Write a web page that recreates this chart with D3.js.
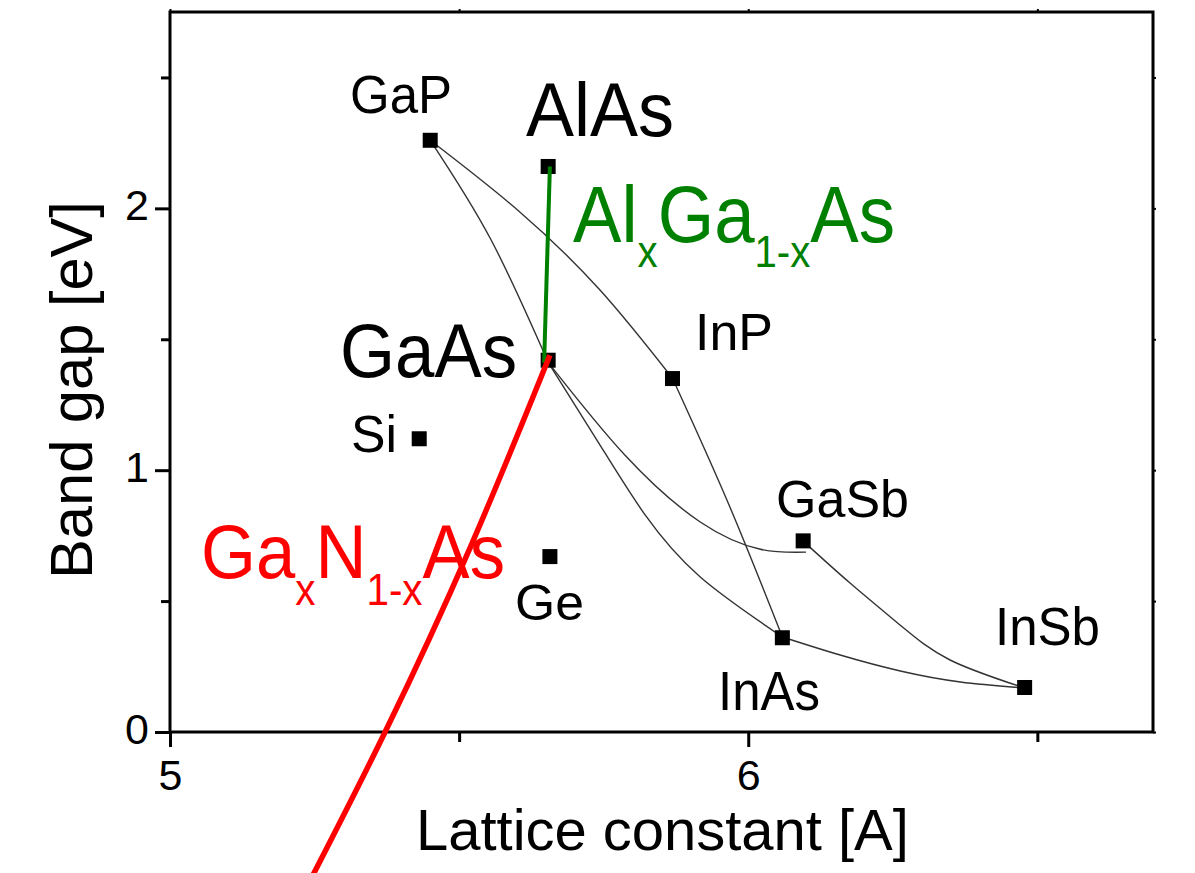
<!DOCTYPE html>
<html>
<head>
<meta charset="utf-8">
<script src="https://cdn.jsdelivr.net/npm/d3@7"></script>
<style>
  html, body { margin: 0; padding: 0; background: #fff; }
  svg { display: block; }
  text { font-family: "Liberation Sans", Arial, Helvetica, sans-serif; }
</style>
</head>
<body>
<svg id="chart" width="1195" height="873"></svg>
<script>
// Binary semiconductors: lattice constant (Å) and band gap (eV)
const compounds        = ["GaP", "AlAs", "GaAs", "InP", "Si", "Ge", "GaSb", "InAs", "InSb"];
const latticeConstants = [5.450, 5.654, 5.654, 5.869, 5.431, 5.657, 6.095, 6.059, 6.478];
const bandGaps         = [2.26, 2.16, 1.42, 1.35, 1.12, 0.67, 0.73, 0.36, 0.17];

// Ternary alloy curves between binaries, as [lattice constant, band gap] pairs
const curveGaPInP   = [[5.450, 2.260], [5.602, 1.992], [5.744, 1.687], [5.869, 1.351]];
const curveGaPGaAs  = [[5.450, 2.260], [5.554, 1.885], [5.654, 1.412]];
const curveGaAsInAs = [[5.654, 1.412], [5.744, 1.095], [5.822, 0.828], [5.917, 0.592], [6.059, 0.363]];
const curveGaAsGaSb = [[5.654, 1.412], [5.787, 1.057], [5.917, 0.802], [6.021, 0.698], [6.100, 0.687]];
const curveInPInAs  = [[5.869, 1.351], [5.967, 0.866], [6.059, 0.363]];
const curveGaSbInSb = [[6.095, 0.729], [6.176, 0.569], [6.263, 0.408], [6.349, 0.275], [6.478, 0.168]];
const curveInAsInSb = [[6.059, 0.363], [6.159, 0.294], [6.263, 0.233], [6.367, 0.191], [6.478, 0.168]];

// Alloy lines highlighted in colour
const lineAlGaAs = [[5.647, 1.410], [5.657, 2.160]];
const lineGaNAs  = [[5.657, 1.439], [5.521, 0.714], [5.372, 0.000], [5.234, -0.603]];

// Axis ticks
const xTicks      = [5, 6];
const xMinorTicks = [5.5, 6.5];
const yTicks      = [0, 1, 2];
const yMinorTicks = [0.5, 1.5, 2.5];

const svg = d3.select("#chart");
const plotLeft = 170, plotRight = 1153, plotTop = 12, plotBottom = 732;

const x = d3.scaleLinear().domain([5, 6.7]).range([plotLeft, plotRight]);
const y = d3.scaleLinear().domain([0, 2.75]).range([plotBottom, plotTop]);

const FONT_CAP = 0.716;

// ---- axes ----
function styleAxis(g) {
  g.select(".domain").remove();
  g.selectAll(".tick line").attr("stroke", "#000").attr("stroke-width", 3);
  g.selectAll("text").attr("fill", "#000").style("font-size", "43px");
}

svg.append("g")
  .attr("transform", `translate(${plotLeft},0)`)
  .call(d3.axisLeft(y).tickValues(yMinorTicks).tickSize(9).tickSizeOuter(0).tickFormat(""))
  .call(styleAxis);

svg.append("g")
  .attr("transform", `translate(${plotLeft},0)`)
  .call(d3.axisLeft(y).tickValues(yTicks).tickSize(15).tickPadding(6).tickSizeOuter(0).tickFormat(d3.format("d")))
  .call(styleAxis)
  .call(g => g.selectAll("text").attr("dy", "0.26em"));

svg.append("g")
  .attr("transform", `translate(0,${plotBottom})`)
  .call(d3.axisBottom(x).tickValues(xMinorTicks).tickSize(10).tickSizeOuter(0).tickFormat(""))
  .call(styleAxis);

svg.append("g")
  .attr("transform", `translate(0,${plotBottom})`)
  .call(d3.axisBottom(x).tickValues(xTicks).tickSize(15).tickSizeOuter(0).tickFormat(d3.format("d")))
  .call(styleAxis)
  .call(g => g.selectAll("text").attr("y", 58).attr("dy", 0));

// small outward ticks on the mirrored axes
svg.append("g")
  .attr("transform", `translate(${plotRight},0)`)
  .call(d3.axisRight(y).tickValues(yTicks.concat(yMinorTicks)).tickSize(3).tickSizeOuter(0).tickFormat(""))
  .call(styleAxis)
  .call(g => g.selectAll(".tick line").attr("stroke-width", 2));

svg.append("g")
  .attr("transform", `translate(0,${plotTop})`)
  .call(d3.axisTop(x).tickValues(xTicks.concat(xMinorTicks)).tickSize(3).tickSizeOuter(0).tickFormat(""))
  .call(styleAxis)
  .call(g => g.selectAll(".tick line").attr("stroke-width", 2));

// frame
svg.append("rect")
  .attr("x", plotLeft).attr("y", plotTop)
  .attr("width", plotRight - plotLeft).attr("height", plotBottom - plotTop)
  .attr("fill", "none").attr("stroke", "#000").attr("stroke-width", 3);

// ---- alloy curves ----
const smooth = d3.line()
  .x(d => x(d[0])).y(d => y(d[1]))
  .curve(d3.curveNatural);

const grayCurves = [curveGaPInP, curveGaPGaAs, curveGaAsInAs, curveGaAsGaSb, curveInPInAs, curveGaSbInSb, curveInAsInSb];
svg.append("g").selectAll("path")
  .data(grayCurves)
  .join("path")
  .attr("d", smooth)
  .attr("fill", "none")
  .attr("stroke", "#333")
  .attr("stroke-width", 1.4);

// ---- binary compound markers ----
const points = compounds.map((c, i) => ({ name: c, a: latticeConstants[i], eg: bandGaps[i] }));
const MS = 15;
svg.append("g").selectAll("rect")
  .data(points)
  .join("rect")
  .attr("x", d => x(d.a) - MS / 2)
  .attr("y", d => y(d.eg) - MS / 2)
  .attr("width", MS).attr("height", MS)
  .attr("fill", "#000");

// ---- highlighted alloys ----
svg.append("path")
  .attr("d", d3.line().x(d => x(d[0])).y(d => y(d[1]))(lineAlGaAs))
  .attr("fill", "none").attr("stroke", "#008000").attr("stroke-width", 4);

svg.append("path")
  .attr("d", smooth(lineGaNAs))
  .attr("fill", "none").attr("stroke", "#ff0000").attr("stroke-width", 5.5);

// ---- labels ----
// Draws a (possibly subscripted) label at a given left edge and baseline,
// sized by cap height and squeezed horizontally to the given width.
function label(parts, lx, baseline, capH, width, color, subSize, subShift) {
  const fs = capH / FONT_CAP;
  const t = svg.append("text")
    .attr("fill", color)
    .style("font-size", fs + "px");
  let shifted = false;
  parts.forEach(p => {
    const isSub = typeof p !== "string";
    const ts = t.append("tspan").text(isSub ? p.sub : p);
    if (isSub) {
      ts.style("font-size", subSize + "px").attr("dy", shifted ? 0 : subShift);
      shifted = true;
    } else if (shifted) {
      ts.attr("dy", -subShift);
      shifted = false;
    }
  });
  const w = t.node().getBBox().width;
  t.attr("transform", `translate(${lx},${baseline}) scale(${width / w},1)`);
  return t;
}

label(["GaP"],  350, 113, 38, 102, "#000");
label(["AlAs"], 526, 136, 54, 148, "#000");
label(["GaAs"], 340, 377, 55, 177, "#000");
label(["InP"],  695, 350, 37, 78, "#000");
label(["Si"],   351, 452, 37, 46, "#000");
label(["Ge"],   515, 620, 36, 69, "#000");
label(["GaSb"], 776, 517, 37, 133, "#000");
label(["InSb"], 995, 645, 38, 105, "#000");
label(["InAs"], 718, 710, 40, 102, "#000");

label(["Al", { sub: "x" }, "Ga", { sub: "1-x" }, "As"], 573, 242, 57, 322, "#008000", 44, 25);
label(["Ga", { sub: "x" }, "N", { sub: "1-x" }, "As"], 201, 578, 55, 304, "#ff0000", 44, 27);

// axis titles
const xTitle = svg.append("text")
  .attr("fill", "#000").style("font-size", "57px")
  .text("Lattice constant [A]");
const xw = xTitle.node().getBBox().width;
xTitle.attr("transform", `translate(416,850) scale(${493 / xw},1)`);

const yTitle = svg.append("text")
  .attr("fill", "#000").style("font-size", "60px")
  .attr("text-anchor", "middle")
  .text("Band gap [eV]");
const yw = yTitle.node().getBBox().width;
yTitle.attr("transform", `translate(92,390) rotate(-90) scale(${378 / yw},1)`);
</script>
</body>
</html>
